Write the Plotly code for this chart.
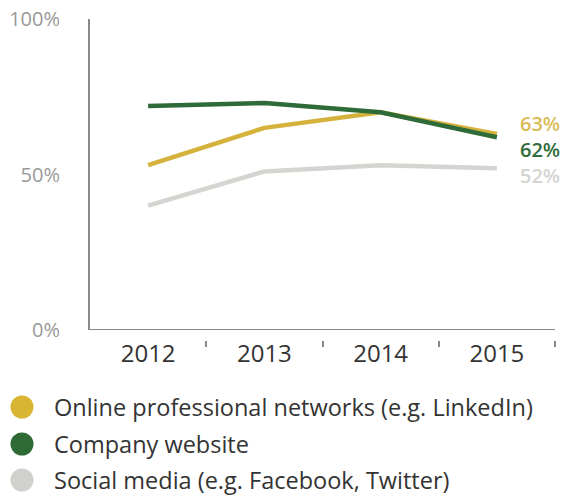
import plotly.graph_objects as go

# Share of respondents using each channel, by year
years = [2012, 2013, 2014, 2015]
year_labels = ["2012", "2013", "2014", "2015"]
series_names = [
    "Online professional networks (e.g. LinkedIn)",
    "Company website",
    "Social media (e.g. Facebook, Twitter)",
]
online_networks = [53, 65, 70, 63]
company_website = [72, 73, 70, 62]
social_media = [40, 51, 53, 52]
y_ticks = [0, 50, 100]
y_tick_labels = ["0%", "50%", "100%"]

series_values = [online_networks, company_website, social_media]
line_colors = ["#D5B23C", "#2E6B38", "#D4D4D0"]
label_colors = ["#D9BB55", "#2E6B38", "#D4D4D0"]
legend_colors = ["#D9B534", "#2D6A35", "#D0D0CC"]

FONT = "'Open Sans', sans-serif"
AXIS_GREY = "#8a8a8a"

fig = go.Figure()

# Draw green after yellow so it sits on top where they meet
for idx in [0, 2, 1]:
    fig.add_trace(go.Scatter(
        x=years, y=series_values[idx], mode="lines",
        line=dict(color=line_colors[idx], width=4.5),
        name=series_names[idx], showlegend=False, hoverinfo="skip",
    ))

annotations = []
# End-of-line value labels, stacked in one block beside the 2015 points
end_label = "<br>".join(
    f"<span style='color:{col}'>{vals[-1]}%</span>"
    for vals, col in zip(series_values, label_colors)
)
annotations.append(dict(
    x=years[-1], y=company_website[-1], xref="x", yref="y",
    text=end_label, showarrow=False, align="left",
    xanchor="left", yanchor="middle", xshift=21, yshift=-12,
    font=dict(family=FONT, size=20, weight=600),
))

shapes = [
    # bottom axis line at 0%
    dict(type="line", xref="paper", yref="y", x0=0, x1=1, y0=0, y1=0,
         line=dict(color=AXIS_GREY, width=2)),
]

# Legend drawn below the chart: coloured dots with labels
plot_w = 574 - 90 - 19
plot_h = 497 - 19 - 150
legend_rows_px = [407, 444, 480]
for name, col, ypx in zip(series_names, legend_colors, legend_rows_px):
    yp = (plot_h + 19 - ypx) / plot_h
    shapes.append(dict(
        type="circle", xref="paper", yref="paper",
        xsizemode="pixel", ysizemode="pixel",
        xanchor=(22 - 90) / plot_w, yanchor=yp,
        x0=-11.5, x1=11.5, y0=-11.5, y1=11.5,
        fillcolor=col, line=dict(width=0),
    ))
    annotations.append(dict(
        x=(52 - 90) / plot_w, y=yp, xref="paper", yref="paper",
        text=name, showarrow=False, xanchor="left", yanchor="middle",
        font=dict(family=FONT, size=23.5, color="#333333"),
    ))

fig.update_layout(
    width=574, height=497,
    margin=dict(l=90, r=19, t=19, b=150),
    paper_bgcolor="white", plot_bgcolor="white",
    font=dict(family=FONT),
    showlegend=False,
    annotations=annotations,
    shapes=shapes,
    xaxis=dict(
        range=[2011.5, 2015.5],
        tickvals=years, ticktext=year_labels,
        ticks="", showline=False, showgrid=False, zeroline=False,
        anchor="free", position=0, automargin=False,
        ticklabelstandoff=-10,
        tickfont=dict(family=FONT, size=24, color="#333333"),
        minor=dict(
            tickvals=[y + 0.5 for y in years],
            ticks="inside", ticklen=6, tickwidth=2, tickcolor=AXIS_GREY,
            showgrid=False,
        ),
        fixedrange=True,
    ),
    yaxis=dict(
        range=[0, 100], domain=[17 / plot_h, 1], automargin=False,
        tickvals=y_ticks, ticktext=y_tick_labels,
        ticks="", showgrid=False, zeroline=False,
        showline=True, linecolor=AXIS_GREY, linewidth=2,
        ticklabelstandoff=24,
        tickfont=dict(family=FONT, size=20, color="#999999"),
        fixedrange=True,
    ),
)

fig.write_html("out.html")
